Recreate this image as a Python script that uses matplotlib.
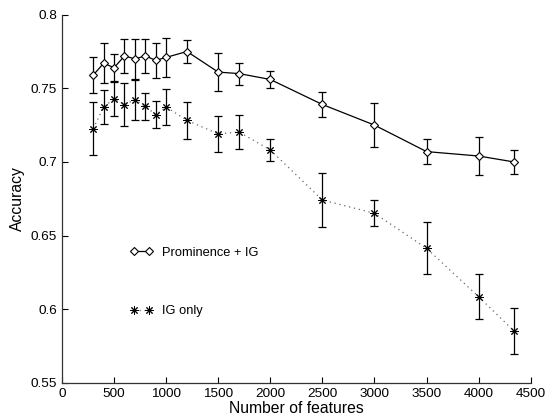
import matplotlib
matplotlib.use("Agg")
import matplotlib.pyplot as plt
from matplotlib.ticker import FixedLocator, FixedFormatter

n_features = [300, 400, 500, 600, 700, 800, 900, 1000, 1200, 1500, 1700,
              2000, 2500, 3000, 3500, 4000, 4337]
prom_ig = [0.759, 0.767, 0.764, 0.772, 0.770, 0.772, 0.769, 0.771, 0.775,
           0.761, 0.760, 0.756, 0.739, 0.725, 0.707, 0.704, 0.700]
prom_ig_err = [0.0125, 0.0136, 0.0094, 0.0116, 0.0134, 0.0114, 0.012, 0.013,
               0.0075, 0.013, 0.0075, 0.006, 0.0087, 0.0147, 0.0084, 0.013, 0.008]
ig_only = [0.7226, 0.7373, 0.7429, 0.7389, 0.7423, 0.7377, 0.7321, 0.7373,
           0.7282, 0.719, 0.7203, 0.7081, 0.6741, 0.6651, 0.6413, 0.6084, 0.5853]
ig_only_err = [0.018, 0.0117, 0.012, 0.0147, 0.0136, 0.0093, 0.009, 0.0122,
               0.0127, 0.012, 0.0114, 0.0077, 0.0185, 0.0088, 0.0176, 0.0153, 0.0155]

x_ticks = [0, 500, 1000, 1500, 2000, 2500, 3000, 3500, 4000, 4500]
y_ticks = [0.55, 0.6, 0.65, 0.7, 0.75, 0.8]
y_tick_labels = ["0.55", "0.6", "0.65", "0.7", "0.75", "0.8"]
labels = ["Prominence + IG", "IG only"]

plt.rcParams['font.family'] = ['Liberation Sans', 'DejaVu Sans']

fig = plt.figure(figsize=(5.46, 4.19), dpi=100)
ax = fig.add_axes([62 / 546, 1 - 382.7 / 419, 468.7 / 546, 368 / 419])

ax.errorbar(n_features, prom_ig, yerr=prom_ig_err, fmt='none', ecolor='black',
            elinewidth=0.9, capsize=3.0, capthick=0.9, zorder=2)
ax.errorbar(n_features, ig_only, yerr=ig_only_err, fmt='none', ecolor='black',
            elinewidth=0.9, capsize=3.0, capthick=0.9, zorder=2)

ax.plot(n_features, prom_ig, color='black', lw=0.9, marker='D', markersize=4.3,
        markerfacecolor='white', markeredgecolor='black', markeredgewidth=0.8,
        label=labels[0], zorder=3)
ax.plot(n_features, ig_only, color='#666666', lw=0.9, linestyle=(0, (1, 3)),
        marker=(8, 2, 0), markersize=6, markeredgecolor='black',
        markeredgewidth=0.7, label=labels[1], zorder=3)

ax.set_xlim(0, 4500)
ax.set_ylim(0.55, 0.8)
ax.xaxis.set_major_locator(FixedLocator(x_ticks))
ax.yaxis.set_major_locator(FixedLocator(y_ticks))
ax.yaxis.set_major_formatter(FixedFormatter(y_tick_labels))
ax.tick_params(direction='in', length=4, width=0.8, labelsize=9.7, pad=3.5,
               colors='black')
for s in ['top', 'right']:
    ax.spines[s].set_visible(False)
for s in ['left', 'bottom']:
    ax.spines[s].set_linewidth(0.9)
    ax.spines[s].set_color('#333333')

ax.set_xlabel("Number of features", fontsize=11.3, labelpad=1)
ax.set_ylabel("Accuracy", fontsize=11.3, labelpad=4)

ax.legend(loc='center left', bbox_to_anchor=(0.145, 0.2736), frameon=False,
          numpoints=2, handlelength=1.8, handletextpad=0.7, labelspacing=3.6,
          borderpad=0, borderaxespad=0, fontsize=9.3)

fig.savefig("out.png", dpi=100)
